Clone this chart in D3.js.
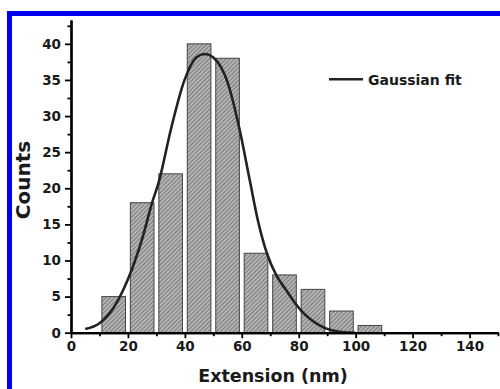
<!DOCTYPE html>
<html>
<head>
<meta charset="utf-8">
<script src="https://cdn.jsdelivr.net/npm/d3@7"></script>
<style>
body{margin:0;background:#fff;}
svg{display:block;}
</style>
</head>
<body>
<svg id="display" width="500" height="389"></svg>
<script>
// histogram bins (nm) and counts
const bin_start=[10,20,30,40,50,60,70,80,90,100];
const bin_width=10;
const counts=[5,18,22,40,38,11,8,6,3,1];

// gaussian fit curve
const fit_x=[5,10,15,17.2,20,25,28.5,31,35,39.8,44,47,50,54.8,59.3,62.8,65.8,68.9,72.2,75.4,78,81,84,87,91,95,100];
const fit_y=[0.5,1.3,3.5,5.0,7.4,13,18,21.1,28,34.9,38.1,38.6,38.1,34.9,28,21.1,15.3,10.9,7.9,6.0,4.5,3.0,1.9,1.1,0.4,0.1,0];

// ticks
const x_major=[0,20,40,60,80,100,120,140];
const x_minor=[10,30,50,70,90,110,130,150];
const y_major=[0,5,10,15,20,25,30,35,40];
const y_minor=[2.5,7.5,12.5,17.5,22.5,27.5,32.5,37.5,42.5];

const legend_label="Gaussian fit";
const x_title="Extension (nm)";
const y_title="Counts";

const display=d3.select("#display");
const font="DejaVu Sans, Liberation Sans, Arial, sans-serif";

// blue frame (top and left edge)
display.append("rect").attr("x",7).attr("y",11).attr("width",493).attr("height",5).attr("fill","#0000f0");
display.append("rect").attr("x",7).attr("y",11).attr("width",5).attr("height",378).attr("fill","#0000f0");

// scales
const x=d3.scaleLinear().domain([0,150]).range([71,498]);
const y=d3.scaleLinear().domain([0,43.3]).range([332.7,20]);

// hatch pattern for bars
const defs=display.append("defs");
const pattern=defs.append("pattern")
    .attr("id","hatch")
    .attr("patternUnits","userSpaceOnUse")
    .attr("width",3)
    .attr("height",3)
    .attr("patternTransform","rotate(45)");
pattern.append("rect").attr("width",3).attr("height",3).attr("fill","#b4b4b4");
pattern.append("line")
    .attr("x1",0).attr("y1",0).attr("x2",0).attr("y2",3)
    .attr("stroke","#555")
    .attr("stroke-width",1.2);

// bars
const bar_pad=0.085*bin_width;
display.append("g")
    .selectAll("rect")
    .data(bin_start)
    .join("rect")
    .attr("x",(d)=>x(d+bar_pad))
    .attr("y",(d,i)=>y(counts[i]))
    .attr("width",x(bin_width-2*bar_pad)-x(0))
    .attr("height",(d,i)=>y(0)-y(counts[i]))
    .attr("fill","url(#hatch)")
    .attr("stroke","#444")
    .attr("stroke-width",1);

// gaussian fit curve
const fit_line=d3.line()
    .x((d,i)=>x(fit_x[i]))
    .y((d,i)=>y(fit_y[i]))
    .curve(d3.curveMonotoneX);
display.append("path")
    .datum(fit_x)
    .attr("d",fit_line)
    .attr("fill","none")
    .attr("stroke","#222")
    .attr("stroke-width",2.6);

// axes
function style_axis(g){
    g.select(".domain").attr("stroke","#000").attr("stroke-width",2.2);
    g.selectAll(".tick line").attr("stroke","#000").attr("stroke-width",1.8);
    g.selectAll(".tick text")
        .style("font-family",font)
        .style("font-weight","bold")
        .style("font-size","13.5px")
        .attr("fill","#1a1a1a");
}

display.append("g")
    .attr("transform","translate(0,"+y(0)+")")
    .call(d3.axisBottom(x).tickValues(x_minor).tickSize(3.5).tickSizeOuter(0).tickFormat(""))
    .call(style_axis);
display.append("g")
    .attr("transform","translate(0,"+y(0)+")")
    .call(d3.axisBottom(x).tickValues(x_major).tickSize(5.5).tickSizeOuter(0).tickPadding(3))
    .call(style_axis);

display.append("g")
    .attr("transform","translate("+x(0)+",0)")
    .call(d3.axisLeft(y).tickValues(y_minor).tickSize(3.5).tickSizeOuter(0).tickFormat(""))
    .call(style_axis);
display.append("g")
    .attr("transform","translate("+x(0)+",0)")
    .call(d3.axisLeft(y).tickValues(y_major).tickSize(6).tickSizeOuter(0).tickPadding(4))
    .call(style_axis);

// axis titles
display.append("text")
    .attr("x",273)
    .attr("y",382)
    .style("font-family",font)
    .style("font-weight","bold")
    .style("font-size","17.5px")
    .style("fill","#1a1a1a")
    .style("text-anchor","middle")
    .text(x_title);

display.append("text")
    .attr("transform","rotate(-90,29.5,180)")
    .attr("x",29.5)
    .attr("y",180)
    .style("font-family",font)
    .style("font-weight","bold")
    .style("font-size","20px")
    .style("fill","#1a1a1a")
    .style("text-anchor","middle")
    .text(y_title);

// legend
display.append("line")
    .attr("x1",329).attr("y1",79.3)
    .attr("x2",363).attr("y2",79.3)
    .attr("stroke","#222")
    .attr("stroke-width",2.4);
display.append("text")
    .attr("x",368)
    .attr("y",85.3)
    .style("font-family",font)
    .style("font-weight","bold")
    .style("font-size","14px")
    .style("fill","#1a1a1a")
    .text(legend_label);
</script>
</body>
</html>
